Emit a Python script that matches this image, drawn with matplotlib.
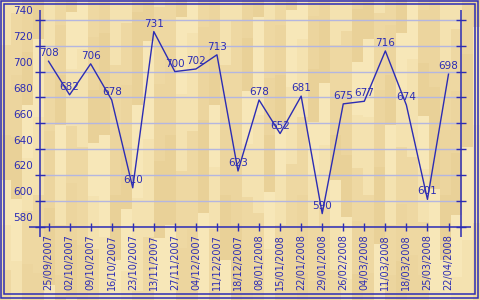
import numpy as np
import matplotlib.pyplot as plt
from matplotlib.colors import to_rgb
from matplotlib.patches import Rectangle
from matplotlib.transforms import ScaledTranslation

# weekly values
dates = [
    "25/09/2007", "02/10/2007", "09/10/2007", "16/10/2007", "23/10/2007",
    "13/11/2007", "27/11/2007", "04/12/2007", "11/12/2007", "18/12/2007",
    "08/01/2008", "15/01/2008", "22/01/2008", "29/01/2008", "26/02/2008",
    "04/03/2008", "11/03/2008", "18/03/2008", "25/03/2008", "22/04/2008",
]
values = [708, 682, 706, 678, 610, 731, 700, 702, 713, 623,
          678, 652, 681, 590, 675, 677, 716, 674, 601, 698]
y_ticks = [580, 600, 620, 640, 660, 680, 700, 720, 740]

blue = "#2c2cb4"
grid_color = "#b4b6e0"
bg = "#f1dcaa"
plank_shades = ["#f7e7b8", "#eed8a2", "#e9d198", "#f4e2b0", "#ecd59e"]
px = 0.72  # one pixel in points at 100 dpi

fig = plt.figure(figsize=(4.8, 3.0), dpi=100)
fig.patch.set_facecolor(bg)

# wooden floor background, made of plain vertical planks
W, H, plank_w = 480, 300, 11
shades = np.array([to_rgb(c) for c in plank_shades])
img = np.zeros((H, W, 3))
for c in range(W // plank_w + 1):
    seg = 45 + (c * c * 17) % 60
    start = (c * c * 13) % seg
    for j, r in enumerate(range(-seg, H, seg)):
        k = (c * 7 + j * 3 + (c * c) % 4) % len(shades)
        r0, r1 = max(r + start, 0), min(r + start + seg, H)
        if r1 > r0:
            img[r0:r1, c * plank_w:(c + 1) * plank_w] = shades[k]
fig.figimage(img, xo=0, yo=0, zorder=0)

# plot area in pixel terms: x 39..460, y 10..227 (from top)
ax = fig.add_axes([39.5 / 480, (300 - 226.5) / 300, 421 / 480, 216.5 / 300])
ax.set_facecolor("none")
ax.set_zorder(2)

x = list(range(len(dates)))
ax.plot(x, values, color=blue, lw=1.0)
for i, v in zip(x, values):
    ax.annotate(str(v), (i, v), xytext=(0, 3.6), textcoords="offset points",
                ha="center", va="baseline", color=blue, fontsize=7.5)

ax.set_xlim(-0.43, 19.57)
ax.set_ylim(580, 747.7)
ax.set_xticks(x)
ax.set_xticklabels(dates, rotation=90)
ax.set_yticks(y_ticks)
ax.set_yticklabels([])
ax.grid(axis="y", color=grid_color, lw=1.0)
ax.set_axisbelow(True)
for s in ax.spines.values():
    s.set_visible(False)

ax.tick_params(axis="x", direction="inout", length=8 * px, width=1.0, color=blue,
               labelcolor=blue, labelsize=7, pad=2.5)
ax.tick_params(axis="y", direction="inout", length=10 * px, width=1.0, color=blue,
               right=True)

# y labels sit a little above their ticks
offset = ScaledTranslation(-7 / 100, 8.5 / 100, fig.dpi_scale_trans)
for v in y_ticks:
    ax.text(0, v, str(v), transform=ax.get_yaxis_transform() + offset,
            ha="right", va="center", color=blue, fontsize=7.5)

# axis lines running past the plot area
for xs, ys in [([0, 0], [-0.05, 1]), ([1, 1], [-0.05, 1]), ([-0.026, 1.024], [0, 0])]:
    ax.plot(xs, ys, color=blue, lw=1.1, transform=ax.transAxes, clip_on=False,
            solid_capstyle="butt")

# double frame around the picture
for (x0, y0, x1, y1) in [(1, 1, 478, 298), (3.5, 3.5, 475, 294)]:
    fig.add_artist(Rectangle((x0 / 480, (300 - y1) / 300), (x1 - x0) / 480,
                             (y1 - y0) / 300, transform=fig.transFigure,
                             fill=False, ec=blue, lw=1.1, zorder=3))

fig.savefig("out.png", dpi=100, facecolor=bg)
